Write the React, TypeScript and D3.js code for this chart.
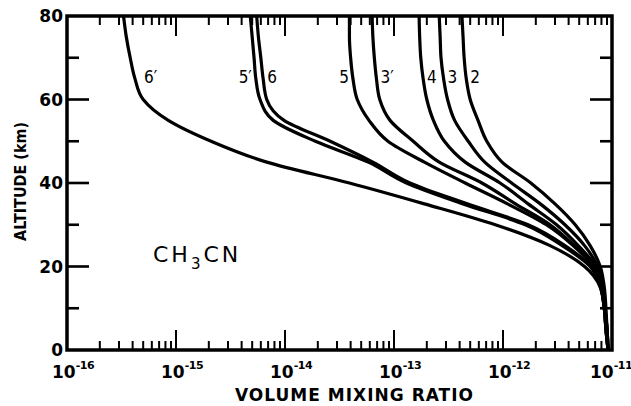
import React from "react";
import * as d3 from "d3";

// altitude grid (km), shared by every curve
const altitudes = [80, 75, 70, 65, 60, 55, 50, 45, 40, 35, 30, 25, 20, 15, 10, 5, 0];

// volume mixing ratios, one array per model case
const case6p = [3.3e-16, 3.5e-16, 3.8e-16, 4.2e-16, 5.0e-16, 8.5e-16, 2.1e-15, 6.8e-15, 3.9e-14, 1.9e-13, 8.5e-13, 2.7e-12, 5.6e-12, 7.8e-12, 8.5e-12, 8.8e-12, 9.2e-12];
const case5p = [4.8e-15, 5.0e-15, 5.2e-15, 5.4e-15, 5.9e-15, 7.8e-15, 1.9e-14, 5.8e-14, 1.3e-13, 4.3e-13, 1.6e-12, 3.5e-12, 6.3e-12, 7.9e-12, 8.5e-12, 8.8e-12, 9.2e-12];
const case6 = [5.5e-15, 5.7e-15, 6.0e-15, 6.3e-15, 6.8e-15, 9.8e-15, 2.6e-14, 6.4e-14, 1.4e-13, 4.7e-13, 1.7e-12, 3.7e-12, 6.4e-12, 7.9e-12, 8.5e-12, 8.8e-12, 9.2e-12];
const case5 = [3.9e-14, 3.9e-14, 4.0e-14, 4.2e-14, 4.6e-14, 5.9e-14, 8.8e-14, 1.9e-13, 4.5e-13, 1.1e-12, 2.5e-12, 4.4e-12, 6.7e-12, 7.9e-12, 8.5e-12, 8.8e-12, 9.2e-12];
const case3p = [6.3e-14, 6.4e-14, 6.6e-14, 6.9e-14, 7.4e-14, 9.2e-14, 1.5e-13, 2.6e-13, 6.4e-13, 1.3e-12, 2.7e-12, 4.5e-12, 6.9e-12, 8.1e-12, 8.6e-12, 9.0e-12, 9.2e-12];
const case4 = [1.7e-13, 1.72e-13, 1.76e-13, 1.85e-13, 2.0e-13, 2.3e-13, 2.9e-13, 4.5e-13, 9.4e-13, 1.7e-12, 3.1e-12, 4.9e-12, 7.1e-12, 8.1e-12, 8.6e-12, 9.0e-12, 9.2e-12];
const case3 = [2.6e-13, 2.65e-13, 2.7e-13, 2.85e-13, 3.1e-13, 3.6e-13, 4.8e-13, 6.8e-13, 1.2e-12, 2.2e-12, 3.7e-12, 5.6e-12, 7.4e-12, 8.3e-12, 8.6e-12, 9.0e-12, 9.2e-12];
const case2 = [4.2e-13, 4.3e-13, 4.4e-13, 4.6e-13, 5.0e-13, 5.9e-13, 7.1e-13, 9.8e-13, 1.8e-12, 3.0e-12, 4.6e-12, 6.3e-12, 7.8e-12, 8.5e-12, 8.8e-12, 9.0e-12, 9.2e-12];

const caseNames = ["6\u2032", "5\u2032", "6", "5", "3\u2032", "4", "3", "2"];
const caseValues = [case6p, case5p, case6, case5, case3p, case4, case3, case2];
// which side of its curve the label sits on
const labelSide = ["right", "left", "right", "left", "right", "right", "right", "right"];

const yMajor = [20, 40, 60];
const yMinor = [10, 30, 50, 70];
const yLabels = [0, 20, 40, 60, 80];
const xDecades = [-16, -15, -14, -13, -12, -11];

const W = 631;
const H = 406;
const left = 67;
const right = 612;
const top = 16;
const bottom = 350;

export default function App() {
  const x = d3.scaleLog().domain([1e-16, 1e-11]).range([left, right]);
  const y = d3.scaleLinear().domain([0, 80]).range([bottom, top]);

  const lineGen = d3
    .line<[number, number]>()
    .x((d) => x(d[0]))
    .y((d) => y(d[1]))
    .curve(d3.curveMonotoneY);

  const bold = "'DejaVu Sans', sans-serif";
  const cond = "'DejaVu Sans Condensed', 'DejaVu Sans', sans-serif";

  // x ticks: every 1..9 multiple inside the decades, majors longer
  const xTicks = x
    .ticks()
    .filter((t) => x(t) > left + 1 && x(t) < right - 1)
    .map((t) => {
      const lg = Math.log10(t);
      return { px: x(t), major: Math.abs(lg - Math.round(lg)) < 1e-6 };
    });

  return (
    <svg
      width={W}
      height={H}
      style={{ position: "absolute", left: 0, top: 0, background: "#fff" }}
    >
      {/* curves */}
      {caseValues.map((vals, i) => (
        <path
          key={"c" + i}
          d={lineGen(vals.map((v, j) => [v, altitudes[j]] as [number, number])) || ""}
          fill="none"
          stroke="#000"
          strokeWidth={3.2}
          strokeLinejoin="round"
        />
      ))}

      {/* curve labels */}
      {caseValues.map((vals, i) => {
        const cx = x(vals[3]);
        const isLeft = labelSide[i] === "left";
        return (
          <text
            key={"l" + i}
            x={isLeft ? cx - 4 : cx + (i === 0 ? 9 : 4)}
            y={y(64)}
            textAnchor={isLeft ? "end" : "start"}
            fontFamily={cond}
            fontSize={17}
            fill="#000"
          >
            {caseNames[i]}
          </text>
        );
      })}

      {/* x ticks as thin rects */}
      {xTicks.map((t, i) => (
        <g key={"xt" + i}>
          <rect x={t.px - 1} y={bottom - (t.major ? 20 : 9)} width={2} height={t.major ? 20 : 9} fill="#000" />
          <rect x={t.px - 1} y={top} width={2} height={t.major ? 20 : 9} fill="#000" />
        </g>
      ))}

      {/* y ticks as thin rects */}
      {yMajor.concat(yMinor).map((t) => {
        const len = yMajor.includes(t) ? 22 : 12;
        return (
          <g key={"yt" + t}>
            <rect x={left} y={y(t) - 1.3} width={len} height={2.6} fill="#000" />
            <rect x={right - len} y={y(t) - 1.3} width={len} height={2.6} fill="#000" />
          </g>
        );
      })}

      {/* frame */}
      <rect
        x={left}
        y={top}
        width={right - left}
        height={bottom - top}
        fill="none"
        stroke="#000"
        strokeWidth={3.5}
      />

      {/* y tick labels */}
      {yLabels.map((t) => (
        <text
          key={"y" + t}
          x={left - 4}
          y={y(t) + 6}
          textAnchor="end"
          fontFamily={bold}
          fontWeight="bold"
          fontSize={17}
        >
          {t}
        </text>
      ))}

      {/* x tick labels */}
      {xDecades.map((e) => (
        <text
          key={"x" + e}
          x={x(Math.pow(10, e)) - (e === -11 ? 22 : 15)}
          y={378}
          fontFamily={bold}
          fontWeight="bold"
          fontSize={17}
        >
          10
          <tspan dy={-9} fontSize={11} letterSpacing={-0.5}>
            {String(e)}
          </tspan>
        </text>
      ))}

      {/* axis titles */}
      <text
        x={235}
        y={401}
        fontFamily={bold}
        fontWeight="bold"
        fontSize={17}
        textLength={238}
        lengthAdjust="spacing"
      >
        VOLUME MIXING RATIO
      </text>
      <text
        transform="translate(26,241) rotate(-90)"
        fontFamily={bold}
        fontWeight="bold"
        fontSize={16}
        textLength={119}
        lengthAdjust="spacingAndGlyphs"
      >
        ALTITUDE (km)
      </text>

      {/* species label */}
      <text x={153} y={262} fontFamily={bold} fontSize={22} letterSpacing={3}>
        CH
        <tspan fontSize={15} dy={7}>
          3
        </tspan>
        <tspan dy={-7}>CN</tspan>
      </text>
    </svg>
  );
}
